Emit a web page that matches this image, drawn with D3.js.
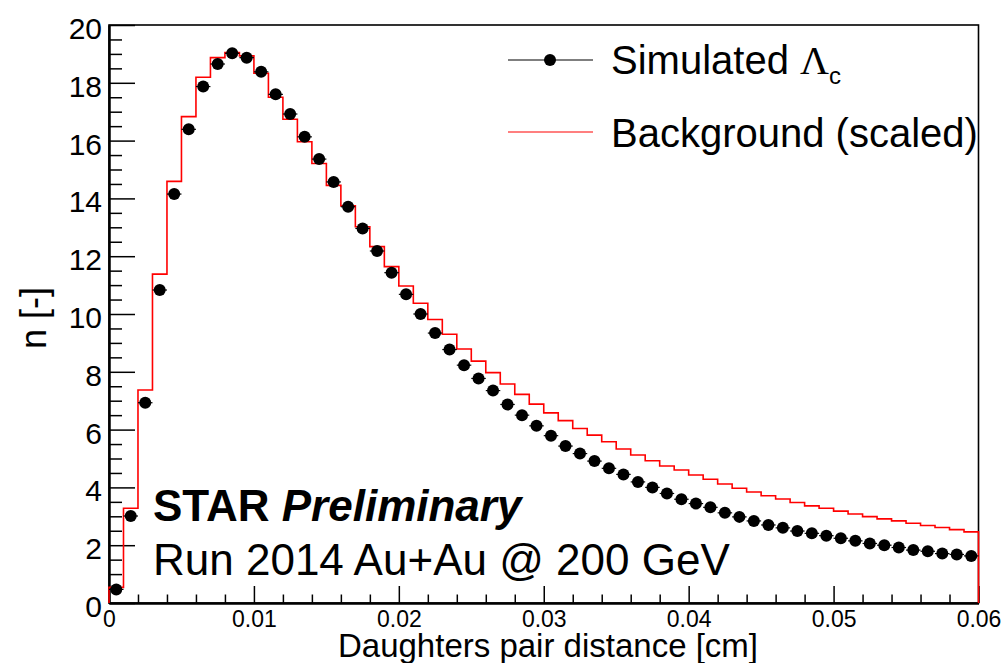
<!DOCTYPE html>
<html>
<head>
<meta charset="utf-8">
<script src="https://cdn.jsdelivr.net/npm/d3@7"></script>
<style>
  body { margin: 0; background: #fff; }
  svg { display: block; }
  text { font-family: "Liberation Sans", Arial, Helvetica, sans-serif; fill: #000; }
</style>
</head>
<body>
<svg id="chart" width="1003" height="663"></svg>
<script>
// Histogram binning: 60 bins of 0.001 cm between 0 and 0.06 cm
const binWidth = 0.001;
const binCount = 60;

// Simulated Lambda_c: content of each bin
const signalValues = [
  0.47, 3.01, 6.93, 10.83, 14.15, 16.39, 17.87, 18.65, 19.02, 18.87,
  18.38, 17.60, 16.92, 16.13, 15.36, 14.57, 13.71, 12.96, 12.18, 11.43,
  10.68, 10.00, 9.34, 8.77, 8.23, 7.77, 7.35, 6.87, 6.50, 6.13,
  5.79, 5.43, 5.17, 4.91, 4.66, 4.45, 4.19, 4.00, 3.79, 3.59,
  3.44, 3.31, 3.12, 2.98, 2.84, 2.70, 2.60, 2.49, 2.41, 2.33,
  2.24, 2.15, 2.06, 2.00, 1.92, 1.83, 1.79, 1.71, 1.68, 1.63
];

// Background, scaled to the signal: content of each bin
const backgroundValues = [
  0.54, 3.28, 7.37, 11.38, 14.59, 16.83, 18.19, 18.87, 19.05, 18.93,
  18.33, 17.50, 16.74, 15.96, 15.21, 14.45, 13.74, 13.02, 12.33, 11.64,
  10.97, 10.37, 9.81, 9.30, 8.79, 8.37, 7.97, 7.58, 7.22, 6.88,
  6.58, 6.31, 6.04, 5.81, 5.58, 5.33, 5.12, 4.92, 4.74, 4.60,
  4.43, 4.28, 4.12, 3.97, 3.84, 3.71, 3.60, 3.48, 3.36, 3.28,
  3.18, 3.08, 2.99, 2.91, 2.84, 2.76, 2.68, 2.61, 2.54, 2.46
];

// Axis ticks and labels
const xMajorTicks = [0, 0.01, 0.02, 0.03, 0.04, 0.05, 0.06];
const xTickLabels = ["0", "0.01", "0.02", "0.03", "0.04", "0.05", "0.06"];
const yMajorTicks = [0, 2, 4, 6, 8, 10, 12, 14, 16, 18, 20];
const yTickLabels = ["0", "2", "4", "6", "8", "10", "12", "14", "16", "18", "20"];

const xTitle = "Daughters pair distance [cm]";
const yTitle = "n [-]";
const legendSignal = "Simulated ";
const legendBackground = "Background (scaled)";

// ---- drawing ----
const svg = d3.select("#chart");
const frame = { left: 109, right: 978.5, top: 25, bottom: 603 };

const x = d3.scaleLinear().domain([0, binCount * binWidth]).range([frame.left, frame.right]);
const y = d3.scaleLinear().domain([0, 20]).range([frame.bottom, frame.top]);

const binLow = d3.range(binCount).map(i => i * binWidth);

// minor ticks
const xMinor = d3.range(0, 31).map(i => i * 0.002).filter(v => !xMajorTicks.some(t => Math.abs(t - v) < 1e-9));
const yMinor = d3.range(0, 41).map(i => i * 0.5).filter(v => v % 2 !== 0);

const xMinorAxis = d3.axisBottom(x).tickValues(xMinor).tickSize(-8.5).tickSizeOuter(0).tickFormat("");
const xAxis = d3.axisBottom(x).tickValues(xMajorTicks).tickSize(-17).tickSizeOuter(0).tickPadding(8)
  .tickFormat((d, i) => xTickLabels[i]);
const yMinorAxis = d3.axisLeft(y).tickValues(yMinor).tickSize(-13).tickSizeOuter(0).tickFormat("");
const yAxis = d3.axisLeft(y).tickValues(yMajorTicks).tickSize(-26).tickSizeOuter(0).tickPadding(7)
  .tickFormat((d, i) => yTickLabels[i]);

// frame (top / right edges)
svg.append("rect")
  .attr("x", frame.left).attr("y", frame.top)
  .attr("width", frame.right - frame.left).attr("height", frame.bottom - frame.top)
  .attr("fill", "none").attr("stroke", "#000").attr("stroke-width", 1.6);

function styleAxis(g, fontSize) {
  g.select(".domain").attr("stroke", "#000").attr("stroke-width", 2);
  g.selectAll(".tick line").attr("stroke", "#000").attr("stroke-width", 1.5);
  g.selectAll(".tick text").attr("font-size", fontSize).attr("fill", "#000");
}

svg.append("g").attr("transform", `translate(0,${frame.bottom})`).call(xMinorAxis).call(g => styleAxis(g, 23));
svg.append("g").attr("class", "x-axis").attr("transform", `translate(0,${frame.bottom})`).call(xAxis).call(g => styleAxis(g, 23));
svg.append("g").attr("transform", `translate(${frame.left},0)`).call(yMinorAxis).call(g => styleAxis(g, 30));
svg.append("g").attr("class", "y-axis").attr("transform", `translate(${frame.left},0)`).call(yAxis).call(g => styleAxis(g, 30));
svg.selectAll("g text").attr("font-family", null);

// y labels sit slightly below their tick
svg.selectAll(".y-axis .tick text").attr("dy", "0.45em");

// background histogram (step outline)
const stepPts = [[0, 0]];
binLow.forEach((lo, i) => stepPts.push([lo, backgroundValues[i]]));
stepPts.push([binCount * binWidth, backgroundValues[binCount - 1]]);
stepPts.push([binCount * binWidth, 0]);

const stepLine = d3.line().x(d => x(d[0])).y(d => y(d[1])).curve(d3.curveStepAfter);
svg.append("path").attr("d", stepLine(stepPts))
  .attr("fill", "none").attr("stroke", "#ff0000").attr("stroke-width", 1.6);

// signal markers with bin-width horizontal bars
const pts = svg.append("g");
signalValues.forEach((v, i) => {
  const lo = binLow[i];
  pts.append("line")
    .attr("x1", x(lo)).attr("x2", x(lo + binWidth))
    .attr("y1", y(v)).attr("y2", y(v))
    .attr("stroke", "#000").attr("stroke-width", 1.2);
  pts.append("circle")
    .attr("cx", x(lo + binWidth / 2)).attr("cy", y(v)).attr("r", 6)
    .attr("fill", "#000");
});

// axis titles
svg.append("text").attr("x", 758).attr("y", 657).attr("text-anchor", "end")
  .attr("font-size", 33).text(xTitle);
svg.append("text").attr("transform", "translate(46,318) rotate(-90)").attr("text-anchor", "middle")
  .attr("font-size", 36).text(yTitle);

// legend
svg.append("line").attr("x1", 508).attr("x2", 593).attr("y1", 60).attr("y2", 60)
  .attr("stroke", "#000").attr("stroke-width", 1.2);
svg.append("circle").attr("cx", 550).attr("cy", 60).attr("r", 6).attr("fill", "#000");
const sig = svg.append("text").attr("x", 611).attr("y", 74).attr("font-size", 40);
sig.append("tspan").text(legendSignal);
sig.append("tspan").attr("font-family", "Liberation Serif, serif").text("\u039B");
sig.append("tspan").attr("font-size", 24).attr("dy", 10).text("c");

svg.append("line").attr("x1", 508).attr("x2", 593).attr("y1", 132).attr("y2", 132)
  .attr("stroke", "#ff0000").attr("stroke-width", 1.2);
svg.append("text").attr("x", 611).attr("y", 147).attr("font-size", 40).text(legendBackground);

// experiment label
const star = svg.append("text").attr("x", 153).attr("y", 521).attr("font-size", 44).attr("font-weight", "bold");
star.append("tspan").text("STAR ");
star.append("tspan").attr("font-style", "italic").text("Preliminary");
svg.append("text").attr("x", 153).attr("y", 575).attr("font-size", 44).text("Run 2014 Au+Au @ 200 GeV");
</script>
</body>
</html>
